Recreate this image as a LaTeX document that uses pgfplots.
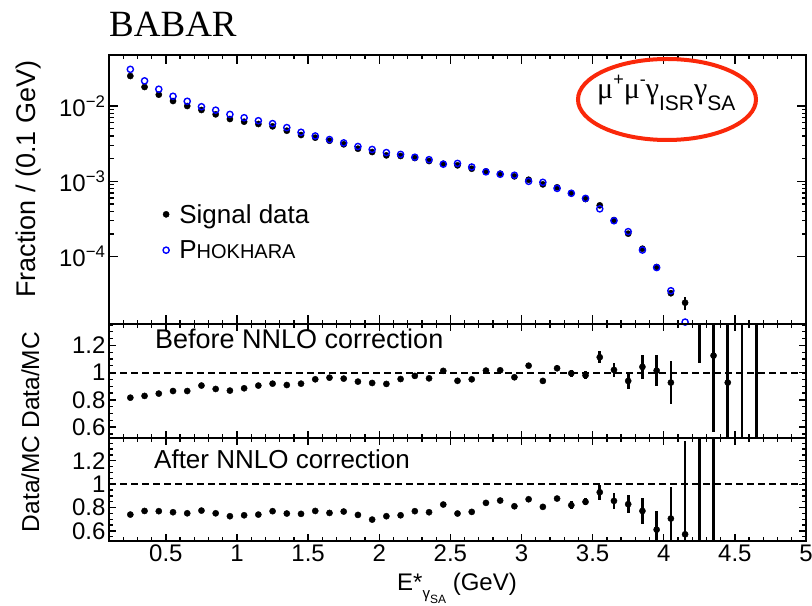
\documentclass[border=0pt]{standalone}
\usepackage{pgfplots}
\pgfplotsset{compat=1.18}
\usepackage{pgfplotstable}
\usepackage{fontspec}
\setmainfont{Liberation Sans}
\newfontfamily\serifbabar{Liberation Serif}
\definecolor{ellred}{RGB}{250,40,10}
\definecolor{mcblue}{RGB}{0,0,255}

\pgfplotstableread{
x sig sige phok
0.25 0.02502 0 0.03066
0.35 0.01788 0 0.02157
0.45 0.01414 0 0.01671
0.55 0.01165 0 0.01347
0.65 0.01000 0 0.01156
0.75 0.00885 0 0.00978
0.85 0.00775 0 0.00881
0.95 0.00672 0 0.00774
1.05 0.00619 0 0.00699
1.15 0.00577 0 0.00638
1.25 0.00537 0 0.00584
1.35 0.00470 0 0.00517
1.45 0.00412 0 0.00448
1.55 0.00380 0 0.00400
1.65 0.00346 0 0.00359
1.75 0.00310 0 0.00324
1.85 0.00271 0 0.00290
1.95 0.00245 0 0.00265
2.05 0.00221 0 0.00241
2.15 0.00217 0 0.00228
2.25 0.00204 0 0.00209
2.35 0.00186 0 0.00194
2.45 0.00171 0 0.00169
2.55 0.00163 0 0.00173
2.65 0.00147 0 0.00155
2.75 0.001356 0 0.001336
2.85 0.001263 0 0.001242
2.95 0.001164 0 0.001205
3.05 0.001051 0 0.001000
3.15 0.000911 0 0.000970
3.25 0.000832 0 0.000806
3.35 0.000692 0.000008 0.000695
3.45 0.000582 0.000008 0.000594
3.55 0.000480 0.000010 0.000431
3.65 0.000306 0.000008 0.000300
3.75 0.000202 0.000006 0.000215
3.85 0.0001275 0.000005 0.0001224
3.95 0.0000728 0.000004 0.0000717
4.05 0.0000327 0.000003 0.0000353
4.15 0.0000245 0.000005 0.00001354
}\topdata

\pgfplotstableread{
x r e
0.25 0.816 0.008
0.35 0.829 0.008
0.45 0.846 0.008
0.55 0.865 0.008
0.65 0.865 0.008
0.75 0.905 0.008
0.85 0.880 0.008
0.95 0.868 0.008
1.05 0.885 0.008
1.15 0.905 0.008
1.25 0.919 0.008
1.35 0.909 0.008
1.45 0.919 0.008
1.55 0.951 0.008
1.65 0.963 0.008
1.75 0.956 0.008
1.85 0.934 0.008
1.95 0.924 0.008
2.05 0.917 0.010
2.15 0.953 0.010
2.25 0.976 0.010
2.35 0.958 0.010
2.45 1.013 0.012
2.55 0.940 0.012
2.65 0.951 0.012
2.75 1.015 0.014
2.85 1.017 0.015
2.95 0.966 0.017
3.05 1.051 0.018
3.15 0.939 0.018
3.25 1.032 0.022
3.35 0.995 0.025
3.45 0.980 0.030
3.55 1.113 0.043
3.65 1.020 0.054
3.75 0.939 0.059
3.85 1.042 0.090
3.95 1.015 0.111
4.05 0.927 0.155
4.15 1.810 0.300
4.25 1.900 0.830
4.35 1.125 0.563
4.45 0.927 0.700
4.55 1.600 1.200
4.65 1.600 1.200
}\beforedata

\pgfplotstableread{
x r e
0.25 0.740 0.008
0.35 0.771 0.008
0.45 0.769 0.008
0.55 0.760 0.008
0.65 0.751 0.008
0.75 0.774 0.008
0.85 0.751 0.008
0.95 0.726 0.008
1.05 0.734 0.008
1.15 0.740 0.008
1.25 0.769 0.008
1.35 0.749 0.008
1.45 0.746 0.008
1.55 0.771 0.008
1.65 0.754 0.008
1.75 0.766 0.008
1.85 0.737 0.008
1.95 0.697 0.008
2.05 0.726 0.010
2.15 0.734 0.010
2.25 0.769 0.010
2.35 0.760 0.010
2.45 0.826 0.012
2.55 0.749 0.012
2.65 0.763 0.012
2.75 0.840 0.014
2.85 0.860 0.015
2.95 0.811 0.017
3.05 0.871 0.018
3.15 0.806 0.018
3.25 0.877 0.022
3.35 0.820 0.034
3.45 0.849 0.030
3.55 0.931 0.063
3.65 0.857 0.069
3.75 0.829 0.079
3.85 0.771 0.114
3.95 0.611 0.160
4.05 0.706 0.270
4.15 0.571 0.800
4.25 1.600 1.200
4.35 1.600 1.200
}\afterdata

\pgfplotsset{
  every axis/.append style={
    scale only axis, width=697bp, xmin=0.1, xmax=5,
    axis line style={line width=2.2bp},
    every tick/.style={black, line width=1.3bp},
    major tick length=9bp, minor tick length=4.5bp,
    tick align=inside,
    xtick={0.5,1,...,5},
    minor xtick={0.2,0.3,...,4.9},
    tick label style={font=\fontsize{24bp}{24bp}\selectfont},
  },
  ratio/.style={
    clip marker paths=true,
    ytick={0.6,0.8,1,1.2},
    yticklabels={0.6,0.8,1,1.2},
    minor ytick={0.55,0.65,0.7,0.75,0.85,0.9,0.95,1.05,1.1,1.15,1.25,1.3,1.35},
    major tick length=7bp, minor tick length=4bp,
  },
  datamarks/.style={only marks, mark=*, mark size=3.1bp, black,
    error bars/.cd, y dir=both, y explicit, error mark=none,
    error bar style={line width=2.6bp, black}},
  unity/.style={black, line width=2.2bp, dash pattern=on 7bp off 4bp},
}

\begin{document}
\begin{tikzpicture}
\path[use as bounding box] (0bp,0bp) rectangle (812bp,606bp);

% top panel
\begin{axis}[at={(109bp,282bp)}, anchor=south west, height=269bp,
  ymode=log, ymin=1.277e-5, ymax=0.04755,
  ytick={1e-4,1e-3,1e-2},
  yticklabels={10\textsuperscript{−4},10\textsuperscript{−3},10\textsuperscript{−2}},
  xticklabels={},
  legend cell align=left,
  legend image code/.code={\path (-6bp,0bp) (11bp,0bp); \draw[#1] plot coordinates {(0bp,0bp)};},
  legend style={at={(rel axis cs:0.0685,0.461)}, anchor=north west, draw=none, fill=none,
    font=\fontsize{26bp}{26bp}\selectfont, row sep=12bp},
]
\addplot[datamarks] table[x=x, y=sig, y error=sige]{\topdata};
\addlegendentry{Signal data}
\addplot[only marks, mark=o, mark size=3.1bp, mcblue, mark options={line width=1.4bp}] table[x=x, y=phok]{\topdata};
\addlegendentry{P{\fontsize{20bp}{20bp}\selectfont HOKHARA}}
\end{axis}

% middle panel
\begin{axis}[at={(109bp,168bp)}, anchor=south west, height=114bp, ratio,
  ymin=0.52, ymax=1.357, xticklabels={}]
\addplot[unity] coordinates {(0.1,1) (5,1)};
\addplot[datamarks] table[x=x, y=r, y error=e]{\beforedata};
\end{axis}

% bottom panel
\begin{axis}[at={(109bp,65bp)}, anchor=south west, height=103bp, ratio,
  ymin=0.514, ymax=1.395,
  xticklabels={0.5,1,1.5,2,2.5,3,3.5,4,4.5,5}]
\addplot[unity] coordinates {(0.1,1) (5,1)};
\addplot[datamarks] table[x=x, y=r, y error=e]{\afterdata};
\end{axis}

% texts
\node[anchor=base west, inner sep=0pt, font=\serifbabar\fontsize{37bp}{37bp}\selectfont] at (109bp,569bp) {BABAR};
\draw[ellred, line width=4bp] (667bp,506.5bp) ellipse [x radius=89bp, y radius=40.5bp];
\node[anchor=base west, inner sep=0pt, font=\fontsize{30bp}{30bp}\selectfont] at (597bp,507bp)
  {{\serifbabar μ}\raisebox{0.45em}{\fontsize{18bp}{18bp}\selectfont +}{\serifbabar μ}\raisebox{0.45em}{\fontsize{18bp}{18bp}\selectfont -}{\serifbabar γ}\raisebox{-0.4em}{\fontsize{21bp}{21bp}\selectfont ISR}{\serifbabar γ}\raisebox{-0.4em}{\fontsize{21bp}{21bp}\selectfont SA}};
\node[anchor=base west, inner sep=0pt, font=\fontsize{27bp}{27bp}\selectfont] at (155bp,257bp) {Before NNLO correction};
\node[anchor=base west, inner sep=0pt, font=\fontsize{26bp}{26bp}\selectfont] at (154bp,137bp) {After NNLO correction};
\node[rotate=90, anchor=base, inner sep=0pt, font=\fontsize{27bp}{27bp}\selectfont] at (35bp,427bp) {Fraction / (0.1 GeV)};
\node[rotate=90, anchor=base, inner sep=0pt, font=\fontsize{24.5bp}{24.5bp}\selectfont] at (39bp,174bp) {Data/MC Data/MC};
\node[anchor=base, inner sep=0pt, font=\fontsize{24bp}{24bp}\selectfont] at (457bp,16bp)
  {E*\raisebox{-0.35em}{\fontsize{15bp}{15bp}\selectfont γ\raisebox{-0.35em}{\fontsize{12bp}{12bp}\selectfont SA}}\ (GeV)};
\end{tikzpicture}
\end{document}
